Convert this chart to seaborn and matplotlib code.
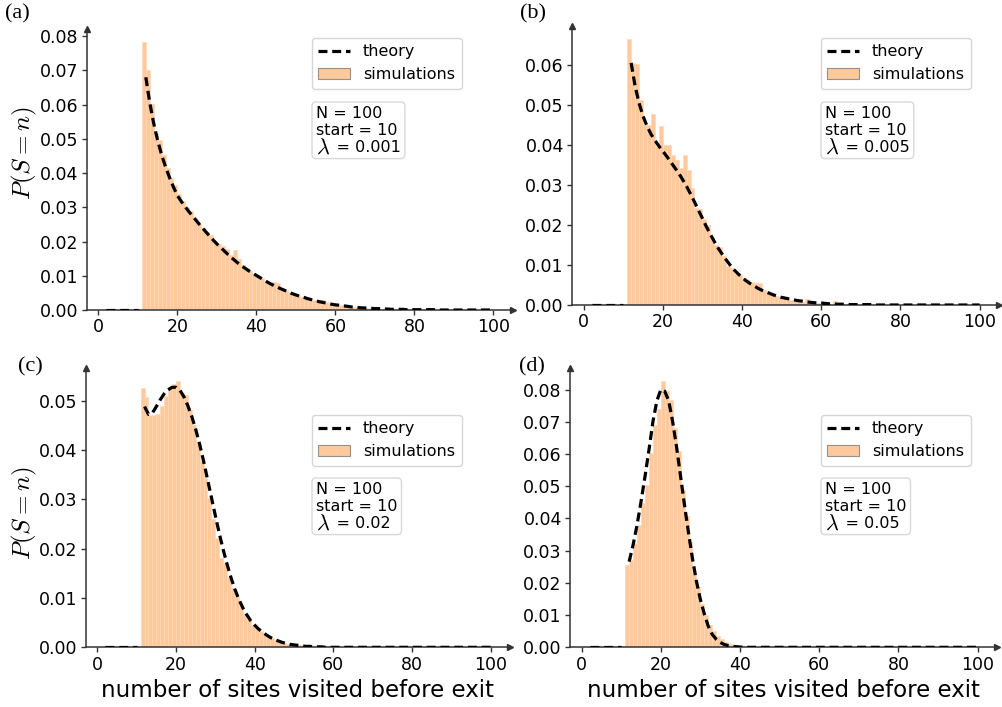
import numpy as np
import pandas as pd
import matplotlib
matplotlib.use("Agg")
import matplotlib.pyplot as plt
import seaborn as sns
from matplotlib.lines import Line2D
from matplotlib.patches import Patch

sns.set_theme(style="ticks")
plt.rcParams["font.family"] = ["DejaVu Sans"]
plt.rcParams["mathtext.fontset"] = "cm"
plt.rcParams["text.color"] = "black"
plt.rcParams["axes.labelcolor"] = "black"

# ---------------- data ----------------
n_sim = list(range(11, 100))      # histogram bins (left edges)
n_theory = list(range(12, 101))   # theory points
n_low = list(range(2, 11))        # theory below start
theory_low = [0, 0, 0, 0, 0, 0, 0, 0, 0]

sim_a = [
    .0782, .0702, .0602, .0517, .0498, .0452, .0415, .0385, .0366, .0338,
    .0318, .0301, .0290, .0268, .0252, .0240, .0228, .0220, .0203, .0192,
    .0188, .0178, .0160, .0175, .0150, .0132, .0124, .0114, .0106, .0100,
    .0094, .0086, .0080, .0082, .0078, .0062, .0058, .0052, .0047, .0043,
    .0039, .0036, .0032, .0029, .0030, .0028, .0024, .0021, .0019, .0017,
    .0014, .0012, .0011, .0010, .0009, .0008, .0007, .0006, .0005, .0005,
    .0004, .0004, .0003, .0003, .0003, .0002, .0002, .0002, .0002, .0001,
    .0001, .0001, .0001, .0001, .0001, .0001, 0, 0, 0, 0,
    0, 0, 0, 0, 0, 0, 0, 0, 0,
]
theory_a = [
    .0680, .0605, .0545, .0495, .0453, .0418, .0387, .0359, .0334, .0317,
    .0301, .0286, .0272, .0258, .0244, .0231, .0218, .0205, .0193, .0182,
    .0171, .0160, .0150, .0140, .0131, .0123, .0115, .0108, .0101, .0094,
    .0087, .0080, .0074, .0068, .0063, .0058, .0053, .0048, .0044, .0040,
    .0037, .0033, .0030, .0027, .0024, .0022, .0019, .0017, .0015, .0014,
    .0012, .0011, .0009, .0008, .0007, .0006, .0006, .0005, .0004, .0004,
    .0003, .0003, .0002, .0002, .0002, .0002, .0001, .0001, .0001, .0001,
    .0001, .0001, .0001, .0001, 0, 0, 0, 0, 0, 0,
    0, 0, 0, 0, 0, 0, 0, 0, 0,
]

sim_b = [
    .0667, .0605, .0602, .0514, .0451, .0451, .0478, .0399, .0447, .0401,
    .0401, .0376, .0363, .0344, .0376, .0338, .0294, .0242, .0240, .0215,
    .0200, .0168, .0150, .0146, .0122, .0098, .0092, .0078, .0075, .0068,
    .0062, .0057, .0056, .0054, .0038, .0033, .0029, .0023, .0021, .0017,
    .0015, .0013, .0011, .0010, .0008, .0014, .0007, .0006, .0005, .0004,
    .0003, .0003, .0011, .0004, .0002, .0002, .0001, .0001, .0001, .0002,
    .0001, .0001, 0, .0001, 0, 0, .0001, 0, 0, 0,
    0, 0, 0, 0, 0, 0, 0, 0, 0, 0,
    0, 0, 0, 0, 0, 0, 0, 0, 0,
]
theory_b = [
    .0606, .0548, .0505, .0473, .0448, .0428, .0412, .0398, .0385, .0372,
    .0358, .0344, .0330, .0314, .0297, .0278, .0258, .0237, .0217, .0196,
    .0177, .0159, .0142, .0127, .0113, .0100, .0088, .0078, .0069, .0061,
    .0054, .0048, .0042, .0037, .0033, .0029, .0025, .0022, .0019, .0017,
    .0015, .0013, .0011, .0010, .0008, .0007, .0006, .0005, .0005, .0004,
    .0003, .0003, .0002, .0002, .0002, .0001, .0001, .0001, .0001, .0001,
    .0001, .0001, 0, 0, 0, 0, 0, 0, 0, 0,
    0, 0, 0, 0, 0, 0, 0, 0, 0, 0,
    0, 0, 0, 0, 0, 0, 0, 0, 0,
]

sim_c = [
    .0525, .0508, .0471, .0471, .0473, .0490, .0510, .0528, .0534, .0539,
    .0515, .0512, .0481, .0450, .0417, .0378, .0344, .0302, .0261, .0221,
    .0182, .0170, .0143, .0120, .0101, .0083, .0067, .0056, .0046, .0040,
    .0033, .0027, .0022, .0018, .0014, .0011, .0009, .0007, .0006, .0005,
    .0004, .0003, .0002, .0002, .0001, .0001, .0001, 0, 0, 0,
    0, 0, 0, 0, 0, 0, 0, 0, 0, 0,
    0, 0, 0, 0, 0, 0, 0, 0, 0, 0,
    0, 0, 0, 0, 0, 0, 0, 0, 0, 0,
    0, 0, 0, 0, 0, 0, 0, 0, 0,
]
theory_c = [
    .0488, .0472, .0475, .0488, .0502, .0514, .0522, .0527, .0527, .0521,
    .0508, .0490, .0468, .0442, .0412, .0378, .0341, .0304, .0267, .0231,
    .0198, .0168, .0141, .0117, .0097, .0080, .0066, .0054, .0045, .0037,
    .0031, .0025, .0020, .0016, .0013, .0010, .0008, .0006, .0005, .0004,
    .0003, .0002, .0002, .0001, .0001, .0001, 0, 0, 0, 0,
    0, 0, 0, 0, 0, 0, 0, 0, 0, 0,
    0, 0, 0, 0, 0, 0, 0, 0, 0, 0,
    0, 0, 0, 0, 0, 0, 0, 0, 0, 0,
    0, 0, 0, 0, 0, 0, 0, 0, 0,
]

sim_d = [
    .0256, .0270, .0323, .0380, .0448, .0505, .0603, .0691, .0740, .0826,
    .0795, .0769, .0681, .0608, .0487, .0408, .0326, .0232, .0187, .0136,
    .0100, .0070, .0052, .0036, .0025, .0017, .0011, .0008, .0005, .0003,
    .0002, .0002, .0001, .0001, 0, 0, 0, 0, 0, 0,
    0, 0, 0, 0, 0, 0, 0, 0, 0, 0,
    0, 0, 0, 0, 0, 0, 0, 0, 0, 0,
    0, 0, 0, 0, 0, 0, 0, 0, 0, 0,
    0, 0, 0, 0, 0, 0, 0, 0, 0, 0,
    0, 0, 0, 0, 0, 0, 0, 0, 0,
]
theory_d = [
    .0266, .0318, .0380, .0452, .0530, .0612, .0700, .0765, .0800, .0795,
    .0765, .0700, .0620, .0530, .0440, .0355, .0275, .0205, .0148, .0103,
    .0065, .0040, .0025, .0015, .0009, .0005, .0003, .0002, .0001, .0001,
    0, 0, 0, 0, 0, 0, 0, 0, 0, 0,
    0, 0, 0, 0, 0, 0, 0, 0, 0, 0,
    0, 0, 0, 0, 0, 0, 0, 0, 0, 0,
    0, 0, 0, 0, 0, 0, 0, 0, 0, 0,
    0, 0, 0, 0, 0, 0, 0, 0, 0, 0,
    0, 0, 0, 0, 0, 0, 0, 0, 0,
]

panel_tags = ["(a)", "(b)", "(c)", "(d)"]
lambdas = ["0.001", "0.005", "0.02", "0.05"]
N_value = "100"
start_value = "10"
legend_labels = ["theory", "simulations"]
xlabel_text = "number of sites visited before exit"
ylabel_text = r"$P(S = n)$"

# ---------------- layout ----------------
W, H = 1002, 707
fig = plt.figure(figsize=(W / 100, H / 100), dpi=100)

ax_rects = [
    [0.0868, 0.5615, 0.425, 0.397],
    [0.571, 0.5686, 0.426, 0.395],
    [0.0858, 0.0844, 0.423, 0.395],
    [0.569, 0.0844, 0.426, 0.395],
]
ytops = [0.0820, 0.0699, 0.0566, 0.0867]
ylabel_y = [0.56, None, 0.48, None]
tag_pos = [(17, 14), (533, 14), (30, 367), (532, 367)]
legend_pos = [(312, 38), (821, 38), (312, 415), (821, 415)]
box_pos = [(316, 106), (825, 106), (316, 482), (825, 482)]

BAR = "#ffc99c"
BAR_EDGE = "#ffd9b9"
SPINE = "#333333"
DASH = (0, (2.8, 1.5))

sims = [sim_a, sim_b, sim_c, sim_d]
theories = [theory_a, theory_b, theory_c, theory_d]
bin_edges = [float(v) for v in range(11, 101)]

for i in range(4):
    ax = fig.add_axes(ax_rects[i])
    df_sim = pd.DataFrame({"n": n_sim, "p": sims[i]})
    sns.histplot(data=df_sim, x="n", weights="p", bins=bin_edges, ax=ax, color=BAR,
                 edgecolor=BAR_EDGE, linewidth=0.5, alpha=1.0, zorder=1)
    sns.lineplot(x=n_low, y=theory_low, ax=ax, color="black", linewidth=2.3,
                 linestyle=DASH, errorbar=None, zorder=3)
    sns.lineplot(x=n_theory, y=theories[i], ax=ax, color="black", linewidth=2.3,
                 linestyle=DASH, errorbar=None, zorder=3)

    ax.set_xlim(-2.9, 104.9)
    ax.set_ylim(0, ytops[i])
    ax.set_xticks([0, 20, 40, 60, 80, 100])
    ax.yaxis.set_major_locator(matplotlib.ticker.MultipleLocator(0.01))
    ax.yaxis.set_major_formatter(matplotlib.ticker.FormatStrFormatter("%.2f"))
    sns.despine(ax=ax)
    for s in ("left", "bottom"):
        ax.spines[s].set_color(SPINE)
        ax.spines[s].set_linewidth(1.1)
    ax.tick_params(axis="both", labelsize=12.5, length=3.5, width=1, pad=2.5,
                   color=SPINE, labelcolor="black", direction="out")
    # arrow heads at the ends of the axes
    ax.plot(1, 0, ">", color=SPINE, markersize=5, transform=ax.transAxes,
            clip_on=False, zorder=5)
    ax.plot(0, 1, "^", color=SPINE, markersize=5, transform=ax.transAxes,
            clip_on=False, zorder=5)

    if i in (0, 2):
        ax.set_ylabel(ylabel_text, fontsize=18)
        x_right = (39 - ax_rects[i][0] * W) / (ax_rects[i][2] * W)
        ax.yaxis.set_label_coords(x_right, ylabel_y[i])
    else:
        ax.set_ylabel("")
    if i in (2, 3):
        ax.set_xlabel(xlabel_text, fontsize=16.5)
    else:
        ax.set_xlabel("")

    handles = [Line2D([0], [0], color="black", linewidth=2.3, linestyle=DASH),
               Patch(facecolor=BAR, edgecolor="#9a8f86", linewidth=0.8)]
    lx, ly = legend_pos[i]
    ax.legend(handles, legend_labels, loc="upper left",
              bbox_to_anchor=(lx / W, 1 - ly / H), bbox_transform=fig.transFigure,
              borderaxespad=0, fontsize=11.5, frameon=True)

    bx, by = box_pos[i]
    info = ax.text(bx / W, 1 - by / H,
                   "N = " + N_value + "\nstart = " + start_value + "\n    = " + lambdas[i],
                   transform=fig.transFigure, fontsize=11.5, ha="left", va="top",
                   linespacing=1.15, zorder=8, clip_on=False,
                   bbox=dict(boxstyle="round,pad=0.25", facecolor="white",
                             edgecolor="#d9d9d9", linewidth=1.0))
    ax.annotate(r"$\lambda$", xy=(0, 0), xycoords=info, xytext=(0, -2.4),
                textcoords="offset points", fontsize=16, ha="left", va="bottom",
                annotation_clip=False, zorder=9)

    tx, ty = tag_pos[i]
    fig.text(tx / W, 1 - ty / H, panel_tags[i], fontsize=16,
             family="Liberation Serif", ha="center", va="center")

fig.savefig("out.png", dpi=100)
